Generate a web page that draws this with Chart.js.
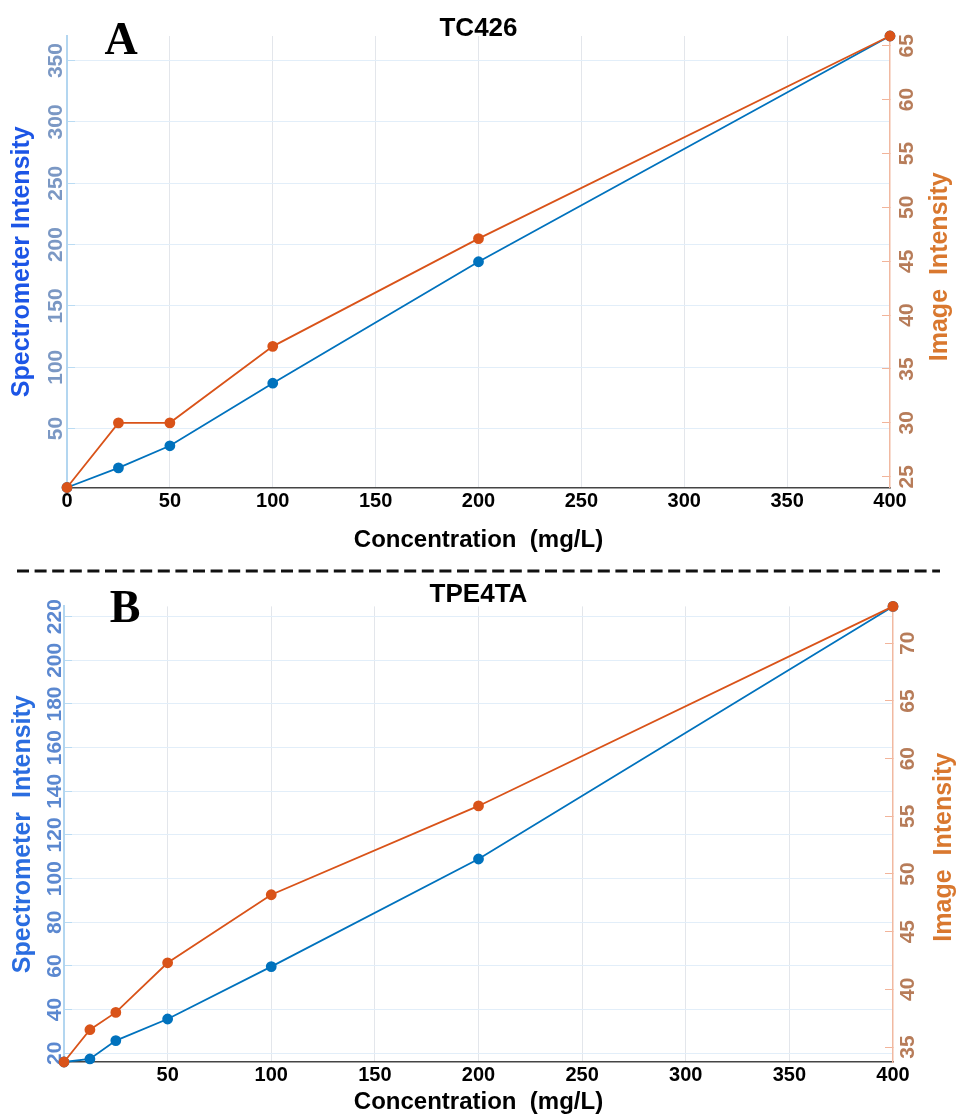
<!DOCTYPE html>
<html>
<head>
<meta charset="utf-8">
<script src="https://cdn.jsdelivr.net/npm/chart.js@4.4.1/dist/chart.umd.min.js"></script>
<style>
  html, body { margin: 0; padding: 0; background: #fff; }
  #wrap { position: relative; width: 959px; height: 1117px; overflow: hidden; }
  #chartA { position: absolute; left: 0; top: 0; }
  #chartB { position: absolute; left: 0; top: 575px; }
  #sep { position: absolute; left: 0; top: 563px; }
</style>
</head>
<body>
<div id="wrap">
  <canvas id="chartA" width="959" height="565"></canvas>
  <svg id="sep" width="959" height="16">
    <line x1="17" y1="8" x2="940" y2="8" stroke="#111" stroke-width="3" stroke-dasharray="12 5.6"/>
  </svg>
  <canvas id="chartB" width="959" height="542"></canvas>
</div>
<script>
// panel A - TC426
const concA = [0, 25, 50, 100, 200, 400];
const specA = [2, 18, 36, 87, 186, 370];
const imgA = [24, 30, 30, 37.1, 47.1, 65.9];
const xTicksA = [0, 50, 100, 150, 200, 250, 300, 350, 400];
const specTicksA = [50, 100, 150, 200, 250, 300, 350];
const imgTicksA = [25, 30, 35, 40, 45, 50, 55, 60, 65];

// panel B - TPE4TA
const concB = [0, 12.5, 25, 50, 100, 200, 400];
const specB = [16, 17.4, 25.8, 35.7, 59.7, 109, 224.7];
const imgB = [33.7, 36.5, 38, 42.3, 48.2, 55.9, 73.2];
const xTicksB = [50, 100, 150, 200, 250, 300, 350, 400];
const specTicksB = [20, 40, 60, 80, 100, 120, 140, 160, 180, 200, 220];
const imgTicksB = [35, 40, 45, 50, 55, 60, 65, 70];

const BLUE = '#0072BD';
const ORANGE = '#D95319';
const SANS = '"Liberation Sans", Arial, sans-serif';

// letter, title and the right axis title (reads bottom to top, which chart.js can't do)
const panelText = {
  id: 'panelText',
  afterDraw(chart, args, o) {
    const { ctx, chartArea } = chart;
    ctx.save();
    ctx.textAlign = 'center';
    ctx.textBaseline = 'middle';
    ctx.fillStyle = '#000';
    ctx.font = 'bold 46px "Liberation Serif", "Times New Roman", serif';
    ctx.fillText(o.letter, o.letterX, o.letterY);
    ctx.font = 'bold 26px ' + SANS;
    ctx.fillText(o.title, (chartArea.left + chartArea.right) / 2, o.titleY);
    const yR = chart.scales.yR;
    ctx.translate(yR.right - o.rTitleOff, (chartArea.top + chartArea.bottom) / 2 + o.rTitleShift);
    ctx.rotate(-Math.PI / 2);
    ctx.fillStyle = '#d9782f';
    ctx.font = 'bold 25px ' + SANS;
    ctx.fillText('Image  Intensity', 0, 0);
    ctx.restore();
  }
};

function toPoints(xs, ys) {
  return xs.map((x, i) => ({ x: x, y: ys[i] }));
}

function makeChart(id, p) {
  return new Chart(document.getElementById(id), {
    type: 'line',
    data: {
      datasets: [
        {
          data: toPoints(p.conc, p.spec), yAxisID: 'yL', order: 1,
          borderColor: BLUE, backgroundColor: BLUE, pointBorderColor: BLUE,
          borderWidth: 1.8, pointRadius: 4.5, tension: 0, clip: false
        },
        {
          data: toPoints(p.conc, p.img), yAxisID: 'yR', order: 0,
          borderColor: ORANGE, backgroundColor: ORANGE, pointBorderColor: ORANGE,
          borderWidth: 1.8, pointRadius: 4.5, tension: 0, clip: false
        }
      ]
    },
    options: {
      responsive: false,
      animation: false,
      layout: { padding: { top: p.top, left: 0, right: 0, bottom: 0 } },
      plugins: {
        legend: { display: false },
        tooltip: { enabled: false },
        panelText: p.text
      },
      scales: {
        x: {
          type: 'linear', min: 0, max: 400,
          afterBuildTicks: s => { s.ticks = p.xTicks.map(v => ({ value: v })); },
          afterFit: s => { s.height = p.xH; },
          grid: {
            drawTicks: false,
            color: c => (c.tick && (c.tick.value === 0 || c.tick.value === 400)) ? 'rgba(0,0,0,0)' : '#e3e6eb'
          },
          border: { color: '#444', width: 1.5 },
          ticks: {
            color: '#000', padding: p.xPad, maxRotation: 0, autoSkip: false,
            font: { family: SANS, weight: 'bold', size: 20 }
          },
          title: {
            display: true, text: 'Concentration  (mg/L)', color: '#000',
            font: { family: SANS, weight: 'bold', size: 24 },
            padding: { top: 0, bottom: p.xTitlePad }
          }
        },
        yL: {
          position: 'left',
          min: Math.min(...p.spec), max: Math.max(...p.spec),
          afterBuildTicks: s => { s.ticks = p.specTicks.map(v => ({ value: v })); },
          afterFit: s => { s.width = p.left; },
          grid: { color: '#e2eef9', tickLength: -8, tickColor: '#b9dbf3' },
          border: { color: '#b3d6f0', width: 2 },
          ticks: {
            color: p.lTickColor, minRotation: 90, maxRotation: 90, crossAlign: 'center',
            padding: p.lPad, font: { family: SANS, weight: 'bold', size: 21 }
          },
          title: {
            display: true, text: p.lTitle, color: p.lTitleColor,
            font: { family: SANS, weight: 'bold', size: 25 },
            padding: { top: p.lTitlePad, bottom: 0 }
          }
        },
        yR: {
          position: 'right',
          min: Math.min(...p.img), max: Math.max(...p.img),
          afterBuildTicks: s => { s.ticks = p.imgTicks.map(v => ({ value: v })); },
          afterFit: s => { s.width = p.right; },
          grid: { drawOnChartArea: false, tickLength: -8, tickColor: '#f2b49a' },
          border: { color: '#f1b9a1', width: 1.5 },
          ticks: {
            color: '#b77c59', minRotation: 90, maxRotation: 90, crossAlign: 'center',
            padding: p.rPad, font: { family: SANS, weight: 'bold', size: 21 }
          }
        }
      }
    },
    plugins: [panelText]
  });
}

makeChart('chartA', {
  conc: concA, spec: specA, img: imgA,
  xTicks: xTicksA, specTicks: specTicksA, imgTicks: imgTicksA,
  top: 36, left: 67, right: 69, xH: 77.5, xPad: 2, xTitlePad: 10.5,
  lPad: 1, rPad: 14, lTitlePad: 7.5,
  lTitle: 'Spectrometer Intensity', lTitleColor: '#1c55e6', lTickColor: '#7b98c4',
  text: { letter: 'A', letterX: 121, letterY: 42, title: 'TC426', titleY: 29, rTitleOff: 18.5, rTitleShift: 5 }
});

makeChart('chartB', {
  conc: concB, spec: specB, img: imgB,
  xTicks: xTicksB, specTicks: specTicksB, imgTicks: imgTicksB,
  top: 31.4, left: 64, right: 66, xH: 55, xPad: 1, xTitlePad: 0,
  lPad: -1, rPad: 12, lTitlePad: 8,
  lTitle: 'Spectrometer  Intensity', lTitleColor: '#2a6de0', lTickColor: '#5b88d0',
  text: { letter: 'B', letterX: 125, letterY: 35, title: 'TPE4TA', titleY: 20, rTitleOff: 15, rTitleShift: 13 }
});
</script>
</body>
</html>
